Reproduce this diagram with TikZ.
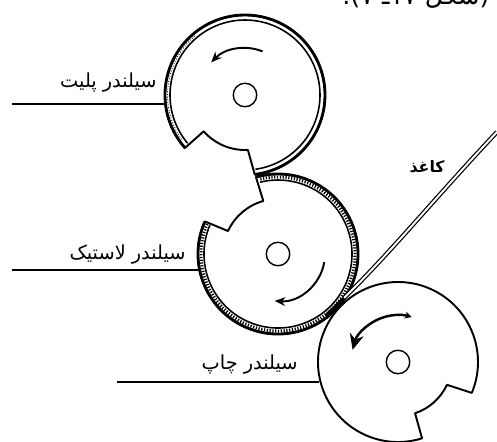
\documentclass[tikz,border=0pt]{standalone}
\usepackage{fontspec}
\newfontfamily\arabicfont[Script=Arabic]{DejaVu Sans}
\TeXXeTstate=1
\usetikzlibrary{arrows.meta}
\tikzset{
  hub/.style={circle, draw, line width=0.8pt, minimum size=0.47cm, inner sep=0pt},
  rimline/.style={line width=1.1pt, line join=round},
  ringline/.style={line width=1.6pt},
  coatline/.style={line width=0.9pt},
  coatfill/.style={line width=1.7pt, dash pattern=on 0.7pt off 0.9pt},
  turn/.style={line width=1.1pt},
  leader/.style={line width=0.6pt},
  namelabel/.style={font=\arabicfont\fontsize{11}{12}\selectfont, inner sep=0pt, anchor=base east},
}
\begin{document}
\begin{tikzpicture}[x=0.02cm, y=0.02cm]
  \useasboundingbox (0,0) rectangle (497,441);
  \fill[white] (0,0) rectangle (497,441);
  % centres of the cylinders
  \node[hub] (plate) at (245,346) {};
  \node[hub] (blanket) at (278,187) {};
  \node[hub] (impression) at (398,79) {};

  % plate cylinder
  \draw[rimline] ([shift={(221.4:80)}]plate.center) arc[start angle=221.4, end angle=-83, radius=80]
      -- ([shift={(273:55)}]plate.center) arc[start angle=273, end angle=221.3, radius=55] -- cycle;
  \draw[ringline] ([shift={(221.4:80)}]plate.center) arc[start angle=221.4, end angle=-83, radius=80];
  \draw[coatline] ([shift={(220:75)}]plate.center) arc[start angle=220, end angle=-82, radius=75];
  \draw[line width=0.5pt, densely dotted] ([shift={(215:77.5)}]plate.center) arc[start angle=215, end angle=130, radius=77.5];
  \draw[turn, -{Stealth[length=6pt,width=5pt]}] ([shift={(68:47)}]plate.center) arc[start angle=68, end angle=136, radius=47];

  % blanket cylinder
  \draw[rimline] ([shift={(156:80)}]blanket.center) arc[start angle=156, end angle=466, radius=80]
      -- ([shift={(105.5:55)}]blanket.center) arc[start angle=105.5, end angle=155.3, radius=55] -- cycle;
  \draw[ringline] ([shift={(156:80)}]blanket.center) arc[start angle=156, end angle=466, radius=80];
  \draw[coatline] ([shift={(157:74)}]blanket.center) arc[start angle=157, end angle=464, radius=74];
  \draw[coatfill] ([shift={(157:77)}]blanket.center) arc[start angle=157, end angle=464, radius=77];
  \draw[turn, -{Stealth[length=6pt,width=5pt]}] ([shift={(-10:47)}]blanket.center) arc[start angle=-10, end angle=-94, radius=47];

  % impression cylinder
  \draw[rimline] ([shift={(-72.5:80)}]impression.center) arc[start angle=-72.5, end angle=-382.7, radius=80]
      -- ([shift={(-25:54)}]impression.center) arc[start angle=-25, end angle=-71.6, radius=54] -- cycle;
  \draw[turn, line width=1.4pt, {Stealth[length=9pt,width=8pt]}-{Stealth[length=4pt,width=4pt]}] ([shift={(165:47)}]impression.center) arc[start angle=165, end angle=73, radius=47];

  % paper
  \coordinate (papertop) at (497,309);
  \coordinate (papernip) at (344,143);
  \draw[line width=0.7pt, double, double distance=1.1pt] (papertop) .. controls (433,241) and (393,191) .. (papernip);
  \draw[line width=2pt] (326,125) -- (papernip);

  % leaders
  \coordinate (plateend) at (12,337);
  \coordinate (platerim) at (165,337);
  \coordinate (blanketend) at (12,171);
  \coordinate (blanketrim) at (199,171);
  \coordinate (impressionend) at (117,59);
  \coordinate (impressionrim) at (319,59);
  \draw[leader] (plateend) -- (platerim);
  \draw[leader] (blanketend) -- (blanketrim);
  \draw[leader] (impressionend) -- (impressionrim);

  % labels
  \node[namelabel] (platelabel) at (157,354) {\beginR سیلندر پلیت\endR};
  \node[namelabel] (blanketlabel) at (186,182) {\beginR سیلندر لاستیک\endR};
  \node[namelabel] (impressionlabel) at (298,72) {\beginR سیلندر چاپ\endR};
  \node[namelabel, font=\arabicfont\bfseries\fontsize{9}{10}\selectfont] (paperlabel) at (445,269) {\beginR کاغذ\endR};
  \node[namelabel, font=\arabicfont\fontsize{14.5}{16}\selectfont] (captionlabel) at (490,437) {\beginR(شکل \beginL۱۷\endL ـ ۷).\endR};
\end{tikzpicture}
\end{document}
